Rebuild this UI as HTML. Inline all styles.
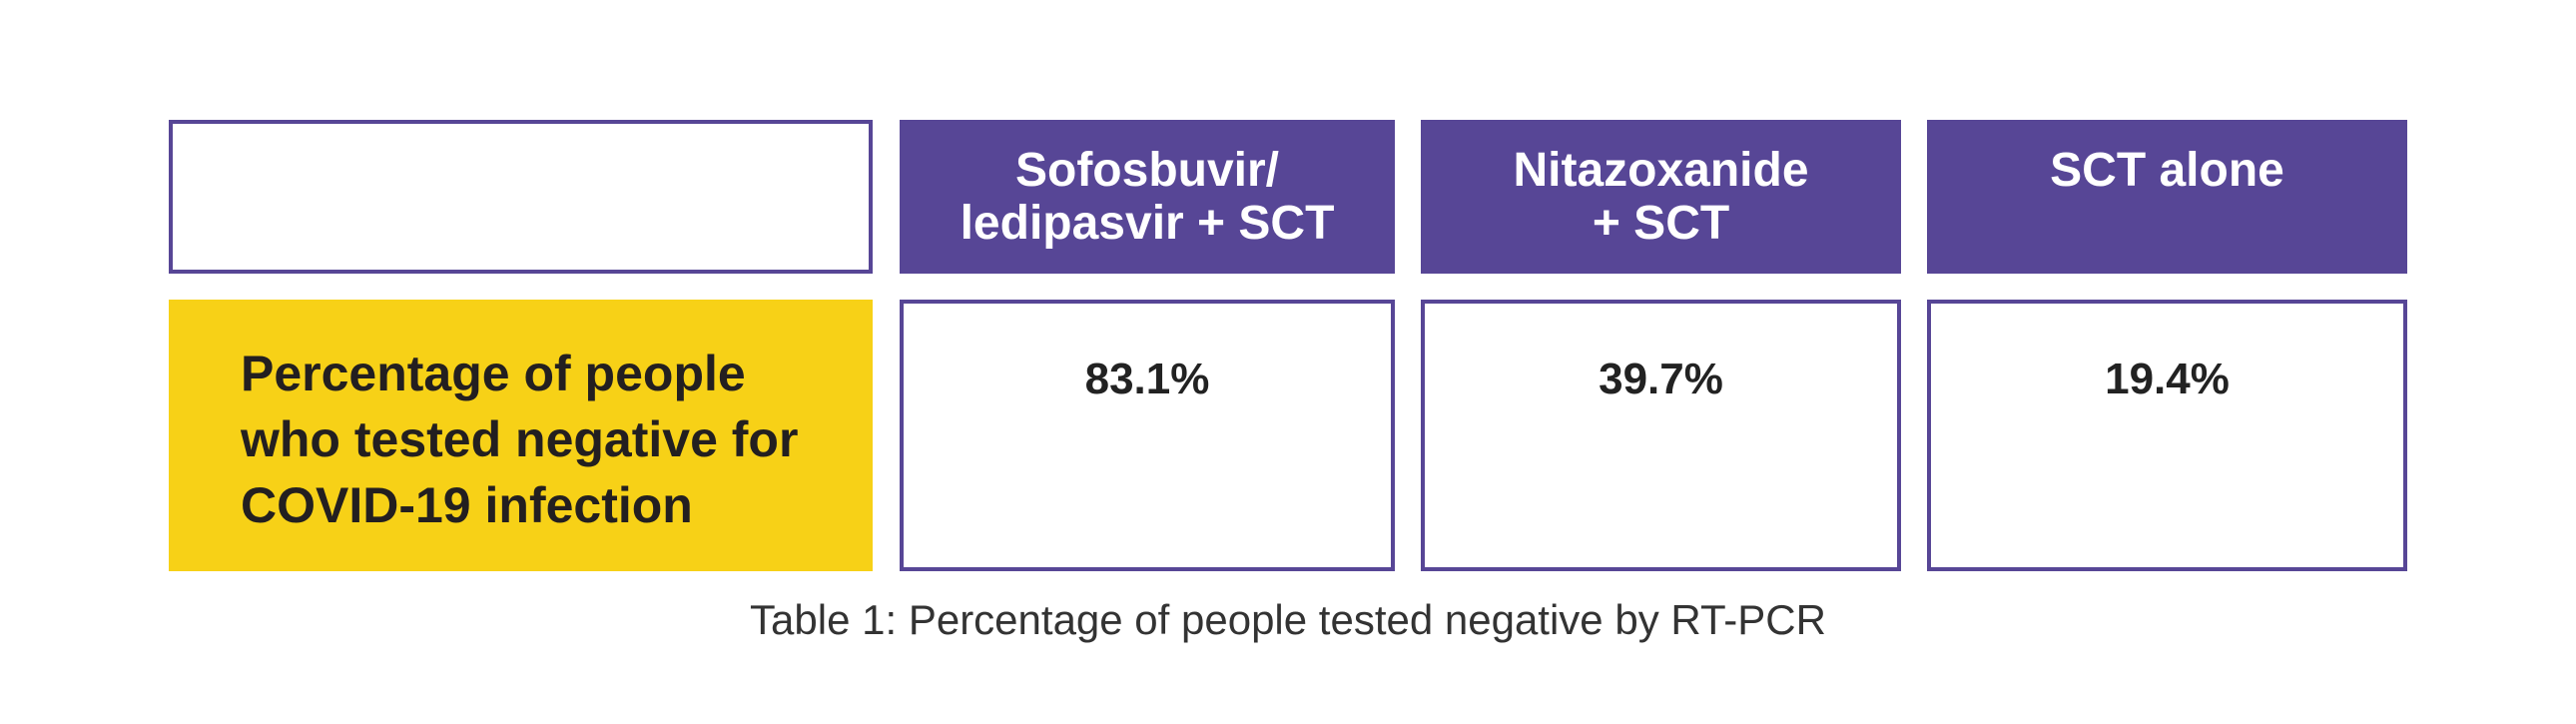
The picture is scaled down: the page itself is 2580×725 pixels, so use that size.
<!DOCTYPE html>
<html><head><meta charset="utf-8"><style>
body{margin:0;width:2580px;height:725px;background:#fff;position:relative;overflow:hidden;font-family:"Liberation Sans",sans-serif;}
.b{position:absolute;box-sizing:border-box;}
.h{background:#574696;color:#fff;text-align:center;font-size:48px;font-weight:bold;line-height:53px;}
.c{border:4px solid #574696;background:#fff;}
.v{position:absolute;left:0;right:0;text-align:center;font-size:44px;font-weight:bold;color:#222;top:51px;}
.t{position:absolute;font-size:50px;font-weight:bold;line-height:66px;color:#231f20;white-space:nowrap;}
</style></head><body>
<div class="b c" style="left:169px;top:120px;width:705px;height:154px;"></div>
<div class="b h" style="left:901px;top:120px;width:496px;height:154px;padding-top:24px;">Sofosbuvir/<br>ledipasvir + SCT</div>
<div class="b h" style="left:1423px;top:120px;width:481px;height:154px;padding-top:24px;">Nitazoxanide<br>+ SCT</div>
<div class="b h" style="left:1930px;top:120px;width:481px;height:154px;padding-top:24px;">SCT alone</div>
<div class="b" style="left:169px;top:300px;width:705px;height:272px;background:#f7d117;">
<div class="t" style="left:72px;top:41px;">Percentage of people<br>who tested negative for<br>COVID-19 infection</div></div>
<div class="b c" style="left:901px;top:300px;width:496px;height:272px;"><div class="v">83.1%</div></div>
<div class="b c" style="left:1423px;top:300px;width:481px;height:272px;"><div class="v">39.7%</div></div>
<div class="b c" style="left:1930px;top:300px;width:481px;height:272px;"><div class="v">19.4%</div></div>
<div class="b" style="left:0;width:2580px;top:597px;text-align:center;font-size:42px;color:#333;">Table 1: Percentage of people tested negative by RT-PCR</div>
</body></html>
